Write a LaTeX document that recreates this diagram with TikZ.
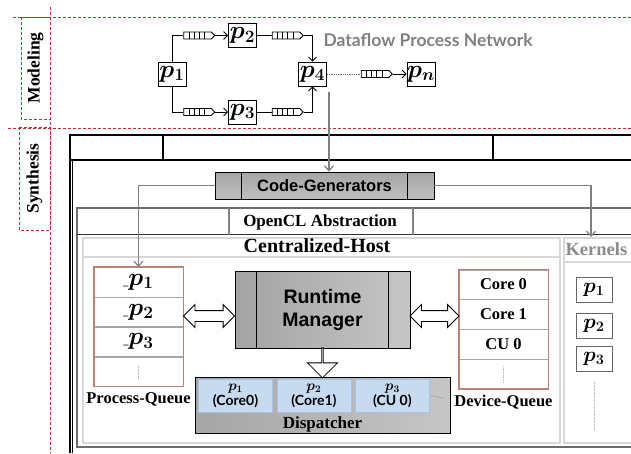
\documentclass[tikz,border=0pt]{standalone}
\usepackage{amsmath, amssymb, bm}
\usepackage{fontspec}
\setmainfont{Liberation Serif}
\setsansfont{Liberation Sans}
\newfontfamily\gillfont{Lato}
\usetikzlibrary{arrows.meta, shapes.symbols, shapes.arrows, positioning, calc}

\definecolor{dashred}{RGB}{210,35,45}
\definecolor{qbrown}{RGB}{192,130,112}
\definecolor{hostgray}{RGB}{216,216,216}
\definecolor{dispblue}{RGB}{198,218,240}
\definecolor{displine}{RGB}{165,195,228}
\definecolor{dotblue}{RGB}{95,105,165}

\newcommand{\pb}[1]{$\boldsymbol{p}_{\boldsymbol{#1}}$}
\newcommand{\fs}[1]{\fontsize{#1}{#1}\selectfont}

\begin{document}
\begin{tikzpicture}[x=1pt, y=-1pt,
        >={Straight Barb[length=4pt, width=8pt]},
        proc/.style={rectangle, draw, thick, minimum width=28pt, minimum height=24pt, inner sep=0pt, font=\fs{24}},
        fifo/.style={signal, signal to=east, draw, thick, minimum width=31pt, minimum height=7pt, inner sep=0pt,
            path picture={\foreach \k in {1,...,4}
                \draw ([xshift=\k*5.2pt]path picture bounding box.south west) -- ([xshift=\k*5.2pt]path picture bounding box.north west);}},
        redline/.style={dashred, line width=0.9pt, dash pattern=on 3pt off 2pt},
        phase/.style={draw=dashred, line width=1pt, dash pattern=on 3pt off 2pt, rotate=90, inner sep=0pt, font=\bfseries\fs{17.5}},
        grayarrow/.style={gray, line width=1.2pt, -{Straight Barb[length=5pt, width=9pt]}},
        darkbox/.style={draw, thick, inner sep=0pt, left color=gray!72, right color=gray!45, font=\sffamily\bfseries},
        qcell/.style={rectangle, draw=gray!70, minimum width=89pt, minimum height=29.5pt, inner sep=0pt, font=\bfseries\fs{16.5}},
        kernel/.style={rectangle, draw=gray!80!black, minimum width=36pt, minimum height=25pt, inner sep=0pt, font=\fs{20}},
        dsp/.style={rectangle, draw=displine, fill=dispblue, minimum width=74pt, minimum height=33pt, inner sep=0pt, align=center, font=\gillfont\bfseries\fontsize{14}{15}\selectfont},
        hollow/.style={double arrow, draw, thick, fill=white, minimum height=50pt, minimum width=0pt, inner sep=5pt, double arrow head extend=6pt},
        qlabel/.style={font=\bfseries\fs{16.5}}
    ]
    \clip (0,0) rectangle (631,453);

    % Phasen
    \draw[redline] (13,17) -- (631,17);
    \draw[redline] (8,128) -- (631,128);
    \draw[redline] (50,7) -- (50,453);
    \node (modeling) [phase, minimum width=102pt, minimum height=29pt] at (35.5,68) {Modeling};
    \node (synthesis) [phase, minimum width=103pt, minimum height=31pt] at (34.5,178.5) {Synthesis};

    % Prozessnetz
    \node (p1) [proc] at (172,74) {\pb{1}};
    \node (p2) [proc] at (242.5,35.5) {\pb{2}};
    \node (p3) [proc] at (242.5,112) {\pb{3}};
    \node (p4) [proc] at (312.5,74) {\pb{4}};
    \node (pn) [proc] at (421,74) {\pb{n}};
    \node (f12) [fifo] at (197.5,35.5) {};
    \node (f13) [fifo] at (197.5,112) {};
    \node (f24) [fifo] at (286,35.5) {};
    \node (f34) [fifo] at (286,112) {};
    \node (f4n) [fifo] at (375,74) {};
    \node (dpn) [anchor=west, text=gray, font=\gillfont\bfseries\fs{17.5}] at (320,40) {Dataflow Process Network};

    \draw[thick] (p1.north) |- (f12.west);
    \draw[thick, ->] (f12.east) -- (p2.west);
    \draw[thick] (p1.south) |- (f13.west);
    \draw[thick, ->] (f13.east) -- (p3.west);
    \draw[thick] (p2.east) -- (f24.west);
    \draw[thick, ->] (f24.east) -| (p4.north);
    \draw[thick] (p3.east) -- (f34.west);
    \draw[thick, ->] (f34.east) -| (p4.south);
    \draw[dotblue, densely dotted, thick] (p4.east) -- (f4n.west);
    \draw[thick, ->] (f4n.east) -- (pn.west);

    % Synthese-Rahmen
    \draw[line width=1.6pt] (70,453) -- (70,135) -- (631,135);
    \draw[line width=0.8pt] (72.5,160) -- (72.5,453);
    \draw[line width=1.8pt] (70,160) -- (631,160);
    \draw[line width=1.2pt] (163,135) -- (163,160);
    \draw[line width=1.2pt] (493,135) -- (493,160);

    % OpenCL
    \draw[gray!85!black, line width=1.2pt] (631,208) -- (77,208) -- (77,447) -- (631,447);
    \draw[gray!40!black, line width=1.2pt] (77,234.5) -- (631,234.5);
    \draw[gray, line width=1.2pt] (229,208) -- (229,234.5);
    \draw[gray, line width=1.2pt] (413,208) -- (413,234.5);
    \node (ocl) [font=\bfseries\fs{17}] at (320,222) {OpenCL Abstraction};

    \node (host) [draw=hostgray, line width=2pt, anchor=north west, minimum width=477pt, minimum height=205pt, inner sep=0pt] at (82,237) {};
    \draw[hostgray, line width=2pt] (82,257) -- (559,257);
    \node (hostlabel) [font=\bfseries\fs{20}] at (317,246) {Centralized-Host};
    \node (kernels) [draw=hostgray, line width=2pt, anchor=north west, minimum width=90pt, minimum height=205pt, inner sep=0pt] at (563,237) {};
    \draw[hostgray, line width=2pt] (563,262) -- (631,262);
    \node (kernlabel) [anchor=west, text=gray!90, font=\bfseries\fs{18.5}] at (562,249.5) {Kernels};

    % Code-Generatoren
    \node (cg) [darkbox, minimum width=219pt, minimum height=27pt, font=\sffamily\bfseries\fs{16.5}, top color=gray!70, bottom color=gray!50] at (324.5,185.5) {Code-Generators};
    \draw[thick] ([xshift=27pt]cg.north west) -- ([xshift=27pt]cg.south west);
    \draw[thick] ([xshift=-27pt]cg.north east) -- ([xshift=-27pt]cg.south east);
    \coordinate (netout) at (329,92);
    \draw[grayarrow] (netout) -- (netout |- cg.north);

    % Runtime Manager
    \node (rm) [darkbox, minimum width=175pt, minimum height=77pt, align=center, font=\sffamily\bfseries\fontsize{19.5}{23}\selectfont] at (322.5,309.5) {Runtime\\Manager};
    \draw[thick] ([xshift=22pt]rm.north west) -- ([xshift=22pt]rm.south west);
    \draw[thick] ([xshift=-22pt]rm.north east) -- ([xshift=-22pt]rm.south east);

    % Process-Queue
    \node (pq1) [qcell] at (138.5,282) {{\fs{10}\_}{\fs{24}\pb{1}}};
    \node (pq2) [qcell, below=0pt of pq1] {{\fs{10}\_}{\fs{24}\pb{2}}};
    \node (pq3) [qcell, below=0pt of pq2] {{\fs{10}\_}{\fs{24}\pb{3}}};
    \node (pq4) [qcell, below=0pt of pq3] {};
    \draw[qbrown, line width=1.4pt] (pq1.north west) rectangle (pq4.south east);
    \draw[gray!50, densely dotted] ([yshift=6pt]pq4.center) -- ([yshift=-8pt]pq4.center);
    \node (pqlabel) [qlabel, below=2pt of pq4] {Process-Queue};

    % Device-Queue
    \node (dq1) [qcell] at (503.5,284.5) {Core 0};
    \node (dq2) [qcell, below=0pt of dq1] {Core 1};
    \node (dq3) [qcell, below=0pt of dq2] {CU 0};
    \node (dq4) [qcell, below=0pt of dq3] {};
    \draw[qbrown, line width=1.4pt] (dq1.north west) rectangle (dq4.south east);
    \draw[gray!50, densely dotted] ([yshift=8pt]dq4.center) -- ([yshift=-8pt]dq4.center);
    \node (dqlabel) [qlabel, below=2pt of dq4] {Device-Queue};

    % Dispatcher
    \node (disp) [draw, thick, inner sep=0pt, left color=gray!70, right color=gray!45, minimum width=255pt, minimum height=56pt] at (322.5,405) {};
    \node (dsp1) [dsp] at (235.5,395.5) {{\fs{14.4}\pb{1}}\\(Core0)};
    \node (dsp2) [dsp, right=4pt of dsp1] {{\fs{14.4}\pb{2}}\\(Core1)};
    \node (dsp3) [dsp, right=4pt of dsp2] {{\fs{14.4}\pb{3}}\\(CU 0)};
    \coordinate (dspmore) at (443,398);
    \draw[gray!60!black, densely dotted] (dsp3.east) ++(2pt,0) -- (dspmore);
    \node (displabel) [font=\bfseries\fs{17}] at (322.5,424) {Dispatcher};

    % Kernels
    \node (k1) [kernel] at (594,289.5) {\pb{1}};
    \node (k2) [kernel] at (594,325.5) {\pb{2}};
    \node (k3) [kernel] at (594,359) {\pb{3}};
    \coordinate (kmore) at (594,430);
    \draw[gray!50, densely dotted] ([yshift=-10pt]k3.south) -- (kmore);

    % Pfeile
    \draw[grayarrow] (cg.west) -| (pq1.north);
    \draw[grayarrow] (cg.east) -| ([xshift=28pt]kernels.north west);
    \node (rm2pq) [hollow, minimum height=51pt] at (209,316) {};
    \node (rm2dq) [hollow, minimum height=49pt] at (434.5,316) {};
    \node (rm2disp) [single arrow, draw, thick, fill=white, rotate=-90, minimum height=30pt, minimum width=30pt, inner sep=0pt, single arrow head extend=8pt, single arrow head indent=0pt] at ($(rm.south)!0.5!(disp.north)$) {};
\end{tikzpicture}
\end{document}
